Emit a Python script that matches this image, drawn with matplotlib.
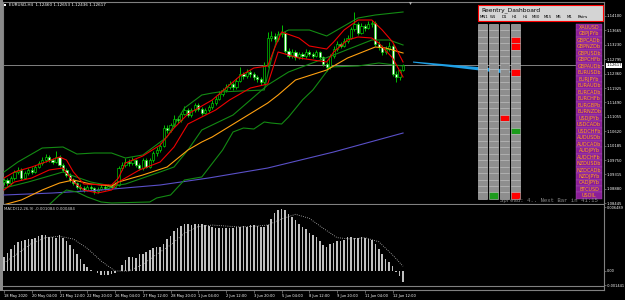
import matplotlib
matplotlib.use("Agg")
import matplotlib.pyplot as plt
from matplotlib.patches import Rectangle, Polygon
import numpy as np

W, H = 625, 300

# EURUSD H4 candles, bar 0 = 18 May 2020 20:00
opens = [1.0908, 1.0915, 1.0905, 1.0920, 1.0940, 1.0945, 1.0922, 1.0935, 1.0945, 1.0940,
         1.0955, 1.0965, 1.0975, 1.0985, 1.0975, 1.0970, 1.0985, 1.0960, 1.0945, 1.0930,
         1.0915, 1.0905, 1.0895, 1.0890, 1.0885, 1.0895, 1.0890, 1.0880, 1.0888, 1.0895,
         1.0890, 1.0898, 1.0895, 1.0900, 1.0950, 1.0960, 1.0970, 1.0965, 1.0975, 1.0960,
         1.0950, 1.0975, 1.0955, 1.0975, 1.0995, 1.1005, 1.1018, 1.1072, 1.1065, 1.1080,
         1.1100, 1.1095, 1.1115, 1.1125, 1.1112, 1.1125, 1.1140, 1.1130, 1.1118, 1.1125,
         1.1135, 1.1148, 1.1160, 1.1175, 1.1185, 1.1195, 1.1205, 1.1195, 1.1215, 1.1235,
         1.1228, 1.1240, 1.1235, 1.1225, 1.1220, 1.1210, 1.1262, 1.1345, 1.1350, 1.1340,
         1.1355, 1.1360, 1.1305, 1.1290, 1.1300, 1.1285, 1.1295, 1.1288, 1.1300, 1.1295,
         1.1290, 1.1300, 1.1285, 1.1265, 1.1255, 1.1290, 1.1310, 1.1325, 1.1320, 1.1335,
         1.1345, 1.1370, 1.1385, 1.1360, 1.1380, 1.1375, 1.1385, 1.1390, 1.1325, 1.1315,
         1.1300, 1.1310, 1.1320, 1.1235, 1.1225, 1.1246]
closes = [1.0915, 1.0905, 1.0920, 1.0940, 1.0945, 1.0922, 1.0935, 1.0945, 1.0940, 1.0955,
          1.0965, 1.0975, 1.0985, 1.0975, 1.0970, 1.0985, 1.0960, 1.0945, 1.0930, 1.0915,
          1.0905, 1.0895, 1.0890, 1.0885, 1.0895, 1.0890, 1.0880, 1.0888, 1.0895, 1.0890,
          1.0898, 1.0895, 1.0900, 1.0950, 1.0960, 1.0970, 1.0965, 1.0975, 1.0960, 1.0950,
          1.0975, 1.0955, 1.0975, 1.0995, 1.1005, 1.1018, 1.1072, 1.1065, 1.1080, 1.1100,
          1.1095, 1.1115, 1.1125, 1.1112, 1.1125, 1.1140, 1.1130, 1.1118, 1.1125, 1.1135,
          1.1148, 1.1160, 1.1175, 1.1185, 1.1195, 1.1205, 1.1195, 1.1215, 1.1235, 1.1228,
          1.1240, 1.1235, 1.1225, 1.1220, 1.1210, 1.1262, 1.1345, 1.1350, 1.1340, 1.1355,
          1.1360, 1.1305, 1.1290, 1.1300, 1.1285, 1.1295, 1.1288, 1.1300, 1.1295, 1.1290,
          1.1300, 1.1285, 1.1265, 1.1255, 1.1290, 1.1310, 1.1325, 1.1320, 1.1335, 1.1345,
          1.1370, 1.1385, 1.1360, 1.1380, 1.1375, 1.1385, 1.1390, 1.1325, 1.1315, 1.1300,
          1.1310, 1.1320, 1.1235, 1.1225, 1.1246, 1.12617]
highs = [1.0922, 1.0920, 1.0926, 1.0946, 1.0955, 1.0950, 1.0941, 1.0952, 1.0953, 1.0961,
         1.0972, 1.0984, 1.0993, 1.0990, 1.0981, 1.1002, 1.0990, 1.0966, 1.0950, 1.0936,
         1.0921, 1.0910, 1.0902, 1.0896, 1.0901, 1.0900, 1.0894, 1.0893, 1.0903, 1.0899,
         1.0904, 1.0903, 1.0908, 1.0958, 1.0968, 1.0980, 1.0978, 1.0984, 1.0979, 1.0966,
         1.0982, 1.0980, 1.0981, 1.1003, 1.1013, 1.1025, 1.1080, 1.1082, 1.1088, 1.1110,
         1.1108, 1.1121, 1.1138, 1.1131, 1.1132, 1.1147, 1.1146, 1.1136, 1.1131, 1.1142,
         1.1155, 1.1168, 1.1183, 1.1193, 1.1204, 1.1214, 1.1210, 1.1222, 1.1257, 1.1242,
         1.1250, 1.1247, 1.1241, 1.1232, 1.1226, 1.1270, 1.1361, 1.1365, 1.1358, 1.1366,
         1.1383, 1.1366, 1.1312, 1.1310, 1.1306, 1.1302, 1.1300, 1.1309, 1.1306, 1.1301,
         1.1308, 1.1304, 1.1290, 1.1272, 1.1296, 1.1318, 1.1333, 1.1331, 1.1344, 1.1353,
         1.1378, 1.1422, 1.1392, 1.1388, 1.1387, 1.1394, 1.1398, 1.1395, 1.1333, 1.1321,
         1.1318, 1.1330, 1.1326, 1.1244, 1.1250, 1.1265]
lows = [1.0900, 1.0898, 1.0901, 1.0915, 1.0933, 1.0915, 1.0918, 1.0930, 1.0932, 1.0936,
        1.0950, 1.0960, 1.0970, 1.0968, 1.0962, 1.0966, 1.0954, 1.0940, 1.0924, 1.0910,
        1.0899, 1.0888, 1.0883, 1.0877, 1.0880, 1.0884, 1.0871, 1.0875, 1.0884, 1.0885,
        1.0886, 1.0889, 1.0891, 1.0897, 1.0944, 1.0954, 1.0958, 1.0960, 1.0955, 1.0944,
        1.0946, 1.0950, 1.0951, 1.0970, 1.0988, 1.0998, 1.1014, 1.1058, 1.1060, 1.1075,
        1.1088, 1.1090, 1.1110, 1.1105, 1.1106, 1.1120, 1.1124, 1.1111, 1.1113, 1.1120,
        1.1130, 1.1142, 1.1155, 1.1168, 1.1179, 1.1190, 1.1188, 1.1190, 1.1210, 1.1220,
        1.1222, 1.1227, 1.1218, 1.1212, 1.1203, 1.1205, 1.1255, 1.1335, 1.1331, 1.1334,
        1.1348, 1.1298, 1.1282, 1.1284, 1.1278, 1.1280, 1.1281, 1.1283, 1.1289, 1.1283,
        1.1286, 1.1279, 1.1258, 1.1245, 1.1250, 1.1284, 1.1304, 1.1312, 1.1315, 1.1328,
        1.1340, 1.1364, 1.1352, 1.1355, 1.1366, 1.1370, 1.1378, 1.1318, 1.1306, 1.1292,
        1.1294, 1.1303, 1.1228, 1.1210, 1.1217, 1.12436]

# indicator lines: (bar, price)
bb_up_bars = [0, 4, 11, 17, 21, 26, 31, 35, 40, 47, 52, 57, 60, 62, 75, 77, 79, 82, 88, 93, 97, 102, 107, 115]
bb_up = [1.09389, 1.09691, 1.10113, 1.10144, 1.09932, 1.09962, 1.09962, 1.09811, 1.09902, 1.10446,
         1.11321, 1.11714, 1.11774, 1.11805, 1.11865, 1.12771, 1.13526, 1.13677, 1.13677, 1.13496,
         1.13737, 1.14039, 1.14130, 1.14221]
bb_mid_bars = [0, 7, 13, 17, 20, 25, 31, 35, 40, 45, 49, 53, 57, 66, 71, 76, 82, 95, 106, 111, 115]
bb_mid = [1.08905, 1.09087, 1.09268, 1.09389, 1.09268, 1.09087, 1.08966, 1.09026, 1.09208, 1.09389,
          1.09540, 1.10053, 1.10657, 1.11110, 1.11563, 1.12016, 1.12409, 1.12922, 1.13375, 1.13375,
          1.13224]
bb_lo_bars = [12, 16, 18, 21, 24, 28, 31, 42, 44, 48, 52, 57, 63, 66, 69, 72, 75, 77, 80, 82, 86, 89, 94, 102, 108, 115]
bb_lo = [1.0830, 1.08694, 1.08845, 1.08785, 1.08634, 1.08483, 1.08453, 1.08483, 1.08604, 1.08694,
         1.09147, 1.09238, 1.10053, 1.10597, 1.10717, 1.10687, 1.10899, 1.10868, 1.10838, 1.11050,
         1.11563, 1.11865, 1.12560, 1.12590, 1.12680, 1.12590]
ma_orange_bars = [0, 5, 11, 16, 20, 25, 31, 33, 40, 47, 53, 57, 60, 68, 76, 79, 84, 93, 99, 107, 110, 115]
ma_orange = [1.0840, 1.08543, 1.08845, 1.09056, 1.09147, 1.09026, 1.08966, 1.09087, 1.09298, 1.09540,
             1.10053, 1.10295, 1.10446, 1.10959, 1.11472, 1.11714, 1.12167, 1.12469, 1.12831, 1.13164,
             1.13133, 1.12982]
ma_blue_bars = [0, 14, 28, 45, 59, 76, 95, 115]
ma_blue = [1.08694, 1.08754, 1.08845, 1.08996, 1.09208, 1.09509, 1.09993, 1.10566]
red_up_bars = [0, 3, 8, 12, 16, 18, 20, 23, 31, 33, 35, 40, 45, 49, 53, 57, 60, 64, 68, 72,
               76, 78, 80, 85, 88, 93, 95, 98, 102, 106, 109, 112, 115]
red_up = [1.09208, 1.09389, 1.09540, 1.09691, 1.09842, 1.09751, 1.09389, 1.09026, 1.08996, 1.09208,
          1.09660, 1.09872, 1.10204, 1.10717, 1.11140, 1.11382, 1.11563, 1.11925, 1.12288, 1.12529,
          1.12590, 1.13133, 1.13617, 1.13435, 1.13194, 1.13103, 1.13315, 1.13677, 1.13979, 1.13979,
          1.13677, 1.13315, 1.12711]
red_lo_bars = [0, 3, 8, 13, 17, 20, 23, 27, 31, 33, 39, 45, 49, 53, 57, 61, 65, 71, 76, 79,
               82, 85, 93, 95, 99, 102, 106, 108, 112, 115]
red_lo = [1.08845, 1.09087, 1.09208, 1.09449, 1.09509, 1.09087, 1.08845, 1.08754, 1.08845, 1.09087,
          1.09449, 1.09691, 1.10144, 1.10838, 1.11050, 1.11261, 1.11563, 1.11925, 1.12046, 1.13013,
          1.12922, 1.12831, 1.12711, 1.13013, 1.13375, 1.13466, 1.13435, 1.13284, 1.12831, 1.12258]

macd = [0.00145, 0.00179, 0.00223, 0.00264, 0.00291, 0.00308, 0.00318, 0.00321, 0.00328, 0.00338,
        0.00355, 0.00368, 0.00362, 0.00348, 0.00348, 0.00338, 0.00362, 0.00338, 0.00304, 0.00264,
        0.00223, 0.00176, 0.00122, 0.00071, 0.00037, 0.00014, -0.00003, -0.00020, -0.00037, -0.00041,
        -0.00037, -0.00030, -0.00017, 0.00003, 0.00061, 0.00115, 0.00142, 0.00145, 0.00135, 0.00169,
        0.00169, 0.00189, 0.00216, 0.00237, 0.00240, 0.00247, 0.00270, 0.00321, 0.00358, 0.00406,
        0.00439, 0.00460, 0.00473, 0.00473, 0.00470, 0.00473, 0.00480, 0.00473, 0.00463, 0.00453,
        0.00443, 0.00433, 0.00433, 0.00433, 0.00439, 0.00439, 0.00433, 0.00443, 0.00450, 0.00460,
        0.00450, 0.00466, 0.00470, 0.00460, 0.00450, 0.00443, 0.00466, 0.00527, 0.00585, 0.00615,
        0.00629, 0.00615, 0.00575, 0.00548, 0.00514, 0.00480, 0.00450, 0.00423, 0.00389, 0.00362,
        0.00341, 0.00308, 0.00264, 0.00247, 0.00270, 0.00284, 0.00304, 0.00304, 0.00318, 0.00341,
        0.00348, 0.00338, 0.00338, 0.00341, 0.00331, 0.00324, 0.00311, 0.00277, 0.00223, 0.00169,
        0.00118, 0.00095, 0.00051, -0.00007, -0.00047, -0.00108]
signal_bars = [0, 4, 8, 12, 16, 20, 24, 28, 32, 36, 40, 44, 48, 52, 56, 60, 64, 68, 72, 76,
               80, 84, 88, 92, 96, 100, 104, 108, 112, 115]
signal = [0.00081, 0.00179, 0.00281, 0.00338, 0.00352, 0.00324, 0.00230, 0.00101, 0.00000, 0.00000,
          0.00068, 0.00169, 0.00264, 0.00382, 0.00450, 0.00466, 0.00456, 0.00446, 0.00453, 0.00466,
          0.00527, 0.00575, 0.00534, 0.00433, 0.00338, 0.00324, 0.00338, 0.00297, 0.00162, 0.00048]

time_ticks = [0, 8, 16, 24, 32, 40, 48, 56, 64, 72, 80, 88, 96, 104, 112]
time_labels = ["18 May 2020", "20 May 04:00", "21 May 12:00", "22 May 20:00", "26 May 04:00",
               "27 May 12:00", "28 May 20:00", "1 Jun 04:00", "2 Jun 12:00", "3 Jun 20:00",
               "5 Jun 04:00", "8 Jun 12:00", "9 Jun 20:00", "11 Jun 04:00", "12 Jun 12:00"]
price_ticks = [1.14100, 1.13665, 1.13230, 1.12795, 1.12360, 1.11925, 1.11490, 1.11055,
               1.10620, 1.10185, 1.09750, 1.09315, 1.08880, 1.08445]
last_price = 1.12617
macd_ticks = [0.006489, 0.0, -0.001441]
macd_tick_labels = ["0.006489", "0.00", "-0.001441"]

pairs = ["XAUUSD", "GBPJPYb", "GBPCADb", "GBPNZDb", "GBPUSDb", "GBPCHFb", "GBPAUDb", "EURUSDb",
         "EURJPYb", "EURAUDb", "EURCADb", "EURCHFb", "EURGBPb", "EURNZDb", "USDJPYb", "USDCADb",
         "USDCHFb", "AUDUSDb", "AUDCADb", "AUDJPYb", "AUDCHFb", "NZDUSDb", "NZDCADb", "NZDJPYb",
         "CADJPYb", "BTCUSD", "USOIL"]
timeframes = ["MN1", "W1", "D1", "H4", "H1", "M30", "M15", "M5", "M1"]
shown_tf = ["MN1", "W1", "D1", "H4"]
red_cells = [("GBPCADb", "H4"), ("GBPNZDb", "H4"), ("EURUSDb", "H4"), ("USDJPYb", "D1"), ("USOIL", "H4")]
green_cells = [("USDCHFb", "H4"), ("USOIL", "W1")]

LIME = "#00dc00"
GRID = "#808080"


def box(x0, y0, x1, y1):
    return [x0 / W, 1 - y1 / H, (x1 - x0) / W, (y1 - y0) / H]


plt.rcParams["font.family"] = ["DejaVu Sans"]
fig = plt.figure(figsize=(6.25, 3.0), dpi=100, facecolor="black")

# bar i sits at pixel x = 4 + 3.47 * i
step = 3.47
xlim = ((3 - 4) / step, (604 - 4) / step)
kp = 0.000302  # price per pixel
ax = fig.add_axes(box(3, 2, 604, 204), facecolor="black")
ax.set_xlim(*xlim)
ax.set_ylim(1.1262 - (204 - 65) * kp, 1.1262 + (65 - 2) * kp)

idx = np.arange(len(closes))
ax.axhline(last_price, color=GRID, lw=0.7, zorder=1)
ax.vlines(idx, lows, highs, color=LIME, lw=0.6, zorder=2)
for i in idx:
    o, c = opens[i], closes[i]
    body = max(abs(c - o), 0.00004)
    ax.add_patch(Rectangle((i - 0.32, min(o, c)), 0.64, body,
                           facecolor="black" if c >= o else "white",
                           edgecolor=LIME, lw=0.45, zorder=3))

ax.plot(ma_blue_bars, ma_blue, color="#5a50c8", lw=0.8, zorder=4)
ax.plot(bb_up_bars, bb_up, color="#138a13", lw=0.8, zorder=4)
ax.plot(bb_mid_bars, bb_mid, color="#138a13", lw=0.8, zorder=4)
ax.plot(bb_lo_bars, bb_lo, color="#138a13", lw=0.8, zorder=4)
ax.plot(ma_orange_bars, ma_orange, color="#ffa010", lw=0.8, zorder=4)
ax.plot(red_up_bars, red_up, color="#ee0000", lw=0.8, zorder=4)
ax.plot(red_lo_bars, red_lo, color="#ee0000", lw=0.8, zorder=4)

ax.yaxis.tick_right()
ax.set_yticks(price_ticks)
ax.set_yticklabels([f"{p:.5f}" for p in price_ticks])
ax.tick_params(axis="y", labelsize=2.7, labelcolor="white", color=GRID, length=1.5, width=0.5, pad=0.6)
ax.set_xticks([])
for s in ax.spines.values():
    s.set_color(GRID)
    s.set_linewidth(0.8)
ax.annotate(f"{last_price:.5f}", xy=(1, last_price), xycoords=ax.get_yaxis_transform(),
            xytext=(1.6, 0), textcoords="offset points", fontsize=2.7, color="black",
            va="center", ha="left",
            bbox=dict(facecolor="white", edgecolor="none", pad=0.4), annotation_clip=False)

# MACD sub-window
km = 0.0001014
ax2 = fig.add_axes(box(3, 205, 604, 290), facecolor="black")
ax2.set_xlim(*xlim)
ax2.set_ylim((271 - 290) * km, (271 - 205) * km)
ax2.bar(idx, macd, width=0.45, color="#c0c0c0", zorder=2)
ax2.plot(signal_bars, signal, color="#c0c0c0", lw=0.6, ls=(0, (1, 1.6)), zorder=3)
ax2.yaxis.tick_right()
ax2.set_yticks(macd_ticks)
ax2.set_yticklabels(macd_tick_labels)
ax2.set_xticks(time_ticks)
ax2.set_xticklabels(time_labels, ha="left")
ax2.tick_params(axis="y", labelsize=2.5, labelcolor="white", color=GRID, length=1.5, width=0.5, pad=0.6)
ax2.tick_params(axis="x", labelsize=2.6, labelcolor="white", color=GRID, length=2, width=0.5, pad=1)
for s in ax2.spines.values():
    s.set_color(GRID)
    s.set_linewidth(0.8)
ax2.spines["top"].set_visible(False)
ax2.spines["left"].set_visible(False)

# overlay in pixel coordinates for the terminal decorations and the dashboard
ov = fig.add_axes([0, 0, 1, 1], zorder=10)
ov.set_xlim(0, W)
ov.set_ylim(H, 0)
ov.axis("off")
ov.patch.set_alpha(0)

ov.add_patch(Rectangle((0, 0), 2.5, 291, facecolor="#8a8a8a", edgecolor="none"))
ov.plot([3, 604], [286, 286], color=GRID, lw=0.8)
ov.add_patch(Rectangle((3.5, 3.5), 2.5, 2.5, facecolor="white", edgecolor="none"))
ov.text(9, 5, "EURUSD,H4  1.12460 1.12653 1.12436 1.12617", fontsize=3.0, color="white", va="center")
ov.text(4, 208.5, "MACD(12,26,9) -0.001084 0.000484", fontsize=2.8, color="#d0d0d0", va="center")
ov.plot([410], [2.6], marker="v", ms=2.2, color="#b0b0b0", mec="none")

# arrow towards the EURUSD row
arrow = [(413, 61.5), (502.2, 69.1), (502.5, 66.4), (511, 72), (501.5, 75.8), (501.8, 73.1), (413, 62.6)]
ov.add_patch(Polygon(arrow, closed=True, facecolor="#1fa0e6", edgecolor="none"))

# dashboard
row_top, row_h = 24.0, 6.48
col_x = {"MN1": 478, "W1": 489, "D1": 500, "H4": 511}
ov.add_patch(Rectangle((478, 5), 125, 16, facecolor="#d4d4d4", edgecolor="#ff0000", lw=0.8))
ov.text(481, 10, "Reentry_Dashboard", fontsize=4.3, color="black", va="center", ha="left")
tf_x = [480, 489.5, 502, 512, 523, 532, 544, 556, 567]
for tf, x in zip(timeframes, tf_x):
    ov.text(x, 16.8, tf, fontsize=2.8, color="black", va="center", ha="left")
ov.text(578, 16.8, "Pairs", fontsize=3.2, color="black", va="center", ha="left")

cell_colors = {}
for p, tf in red_cells:
    cell_colors[(p, tf)] = "#ff0000"
for p, tf in green_cells:
    cell_colors[(p, tf)] = "#1c9c1c"
for tf in shown_tf:
    x = col_x[tf]
    for r, p in enumerate(pairs):
        ov.add_patch(Rectangle((x, row_top + r * row_h), 9, row_h,
                               facecolor=cell_colors.get((p, tf), "#8e8e8e"),
                               edgecolor="#c8c8c8", lw=0.4))
for r, p in enumerate(pairs):
    y = row_top + r * row_h
    ov.add_patch(Rectangle((576, y), 26, row_h, facecolor="#8b1e98", edgecolor="#a555b5", lw=0.3))
    ov.text(589, y + row_h / 2 + 0.2, p, fontsize=3.5, color="#ffa41c", ha="center", va="center")

ov.text(500, 200.5, "Spread: 4.. Next Bar in 41:15", family="Liberation Mono", fontsize=4.1,
        color="#8c8c8c", va="center", ha="left")

fig.savefig("out.png", dpi=100, facecolor="black")
